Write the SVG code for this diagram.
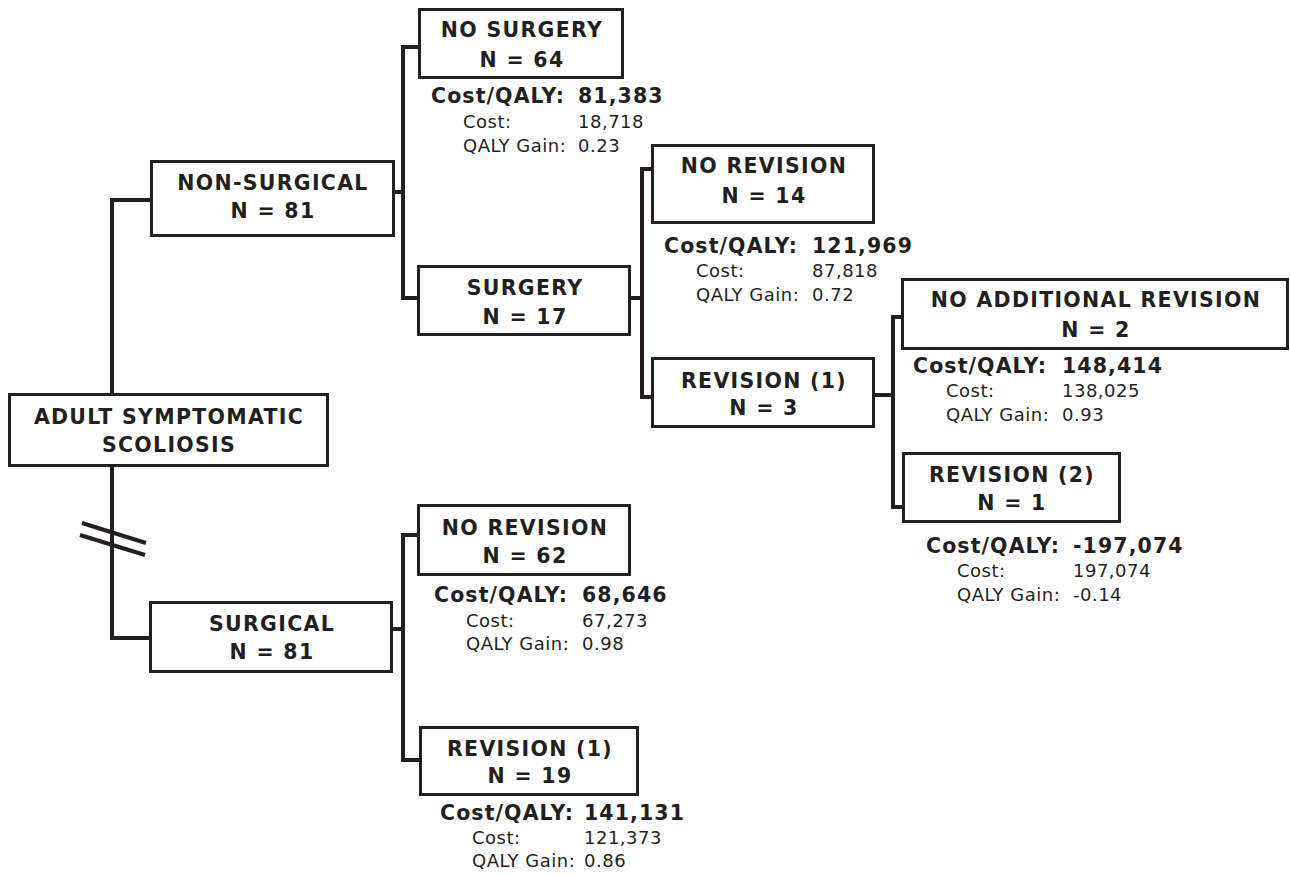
<svg xmlns="http://www.w3.org/2000/svg" width="1290" height="876" viewBox="0 0 1290 876">
<style>
.box{fill:#fff;stroke:#231f20;stroke-width:3}
.conn{fill:none;stroke:#231f20;stroke-width:4;stroke-linejoin:miter}
.t{font-family:"DejaVu Sans",Verdana,sans-serif;font-weight:bold;font-size:20.5px;letter-spacing:1.3px;fill:#231f20;text-anchor:middle}
.b{font-family:"DejaVu Sans",Verdana,sans-serif;font-weight:bold;font-size:20.5px;letter-spacing:1.1px;fill:#231f20}
.n{font-family:"DejaVu Sans",Verdana,sans-serif;font-size:18px;letter-spacing:0.5px;fill:#231f20}
</style>
<rect width="1290" height="876" fill="#fff"/>
<g id="connectors">
<path class="conn" d="M112,394 V200 H151"/>
<path class="conn" d="M112,466 V638 H150"/>
<path class="conn" d="M82,523 L146,543 M80,535 L145,555"/>
<path class="conn" d="M394,192 H403 M419,47 H403 V298 H418"/>
<path class="conn" d="M630,298 H642 M652,169 H642 V397 H652"/>
<path class="conn" d="M874,395 H893 M902,317 H893 V507 H903"/>
<path class="conn" d="M392,629 H403 M418,535 H403 V760 H420"/>
</g>
<g id="root">
<rect class="box" x="9.5" y="394.5" width="318" height="71"/>
<text class="t" x="169" y="424">ADULT SYMPTOMATIC</text>
<text class="t" x="169" y="452">SCOLIOSIS</text>
</g>
<g id="nonsurgical">
<rect class="box" x="151.5" y="161.5" width="242" height="74"/>
<text class="t" x="273" y="190">NON-SURGICAL</text>
<text class="t" x="273" y="218">N = 81</text>
</g>
<g id="nosurgery">
<rect class="box" x="419.5" y="9.5" width="203" height="68"/>
<text class="t" x="522" y="37">NO SURGERY</text>
<text class="t" x="522" y="67">N = 64</text>
<text class="b" x="431" y="103">Cost/QALY:</text>
<text class="b" x="578" y="103">81,383</text>
<text class="n" x="463" y="128">Cost:</text>
<text class="n" x="578" y="128">18,718</text>
<text class="n" x="463" y="152">QALY Gain:</text>
<text class="n" x="578" y="152">0.23</text>
</g>
<g id="surgery">
<rect class="box" x="418.5" y="266.5" width="211" height="68"/>
<text class="t" x="525" y="295">SURGERY</text>
<text class="t" x="525" y="324">N = 17</text>
</g>
<g id="norevision14">
<rect class="box" x="652.5" y="145.5" width="221" height="77"/>
<text class="t" x="764" y="173">NO REVISION</text>
<text class="t" x="764" y="203">N = 14</text>
<text class="b" x="664" y="253">Cost/QALY:</text>
<text class="b" x="812" y="253">121,969</text>
<text class="n" x="696" y="277">Cost:</text>
<text class="n" x="812" y="277">87,818</text>
<text class="n" x="696" y="301">QALY Gain:</text>
<text class="n" x="812" y="301">0.72</text>
</g>
<g id="revision1a">
<rect class="box" x="652.5" y="358.5" width="221" height="68"/>
<text class="t" x="764" y="388">REVISION (1)</text>
<text class="t" x="764" y="415">N = 3</text>
</g>
<g id="noadditional">
<rect class="box" x="902.5" y="279.5" width="385" height="69"/>
<text class="t" x="1096" y="307">NO ADDITIONAL REVISION</text>
<text class="t" x="1096" y="337">N = 2</text>
<text class="b" x="913" y="373">Cost/QALY:</text>
<text class="b" x="1062" y="373">148,414</text>
<text class="n" x="946" y="397">Cost:</text>
<text class="n" x="1062" y="397">138,025</text>
<text class="n" x="946" y="421">QALY Gain:</text>
<text class="n" x="1062" y="421">0.93</text>
</g>
<g id="revision2">
<rect class="box" x="903.5" y="453.5" width="216" height="68"/>
<text class="t" x="1012" y="482">REVISION (2)</text>
<text class="t" x="1012" y="510">N = 1</text>
<text class="b" x="926" y="553">Cost/QALY:</text>
<text class="b" x="1073" y="553">-197,074</text>
<text class="n" x="957" y="577">Cost:</text>
<text class="n" x="1073" y="577">197,074</text>
<text class="n" x="957" y="601">QALY Gain:</text>
<text class="n" x="1073" y="601">-0.14</text>
</g>
<g id="surgical">
<rect class="box" x="150.5" y="602.5" width="241" height="69"/>
<text class="t" x="272" y="631">SURGICAL</text>
<text class="t" x="272" y="659">N = 81</text>
</g>
<g id="norevision62">
<rect class="box" x="418.5" y="505.5" width="211" height="69"/>
<text class="t" x="525" y="535">NO REVISION</text>
<text class="t" x="525" y="563">N = 62</text>
<text class="b" x="434" y="602">Cost/QALY:</text>
<text class="b" x="582" y="602">68,646</text>
<text class="n" x="466" y="627">Cost:</text>
<text class="n" x="582" y="627">67,273</text>
<text class="n" x="466" y="650">QALY Gain:</text>
<text class="n" x="582" y="650">0.98</text>
</g>
<g id="revision1b">
<rect class="box" x="420.5" y="727.5" width="217" height="67"/>
<text class="t" x="530" y="756">REVISION (1)</text>
<text class="t" x="530" y="783">N = 19</text>
<text class="b" x="440" y="820">Cost/QALY:</text>
<text class="b" x="584" y="820">141,131</text>
<text class="n" x="472" y="844">Cost:</text>
<text class="n" x="584" y="844">121,373</text>
<text class="n" x="472" y="867">QALY Gain:</text>
<text class="n" x="584" y="867">0.86</text>
</g>
</svg>
